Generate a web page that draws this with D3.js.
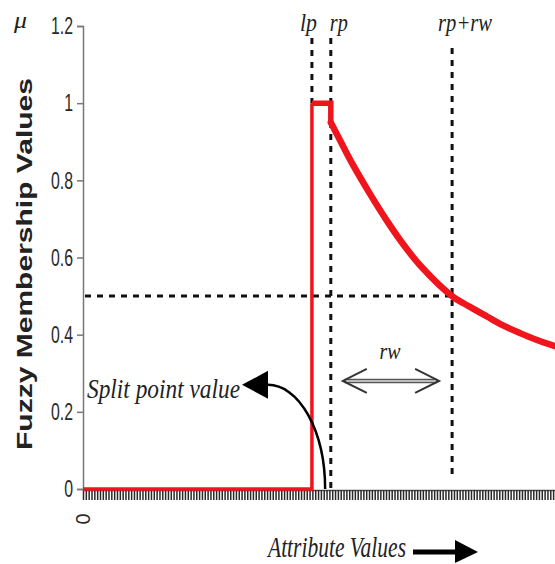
<!DOCTYPE html>
<html>
<head>
<meta charset="utf-8">
<script src="https://cdn.jsdelivr.net/npm/d3@7"></script>
<style>
  body { margin: 0; background: #fff; }
  svg { display: block; }
</style>
</head>
<body>
<svg id="chart" width="555" height="564"></svg>
<script>
// data (x in attribute units 0..100, y = membership)
const yTicks = [0, 0.2, 0.4, 0.6, 0.8, 1, 1.2]
const yTickLabels = ['0', '0.2', '0.4', '0.6', '0.8', '1', '1.2']
const xTickLabels = ['0']
const lp = 48.5
const rp = 52.5
const rw = 25.7
const stepX = [0, 48.5, 48.5]
const stepY = [0, 0, 1]
const topX = [48.5, 52.5, 52.5]
const topY = [1, 1, 0.95]
const curveX = [52.5, 54.4, 57.2, 60.8, 64.4, 67.8, 71.4, 78.2, 82, 85.6, 89, 92.6, 96.2, 100]
const curveY = [0.95, 0.905, 0.84, 0.765, 0.695, 0.635, 0.58, 0.5, 0.472, 0.447, 0.424, 0.404, 0.386, 0.37]
const splitPoint = 51.3
const splitLabelAt = [39.2, 0.27]
const rwArrowY = 0.28

let svg = d3.select('#chart')
let x = d3.scaleLinear([0, 100], [83, 555])
let y = d3.scaleLinear([0, 1.2], [489, 26])

function condense(sel, f) {
    sel.each(function () {
        let w = this.getComputedTextLength()
        d3.select(this).attr('textLength', w * f).attr('lengthAdjust', 'spacingAndGlyphs')
    })
}

// y axis
let yAxis = svg.append('g')
    .attr('transform', `translate(${x(0)},0)`)
    .call(d3.axisLeft(y).tickValues(yTicks).tickFormat((d, i) => yTickLabels[i]).tickSize(6).tickPadding(4))
yAxis.select('.domain').attr('stroke', '#777').attr('stroke-width', 1.5)
yAxis.selectAll('.tick line').attr('stroke', '#777').attr('stroke-width', 1.5)
yAxis.selectAll('.tick text')
    .attr('font-family', 'Liberation Sans, Arial, sans-serif')
    .attr('font-size', 24)
    .attr('fill', '#2a2a2a')
    .call(condense, 0.66)

// x axis: dense rug of ticks
let rug = d3.range(0, 100.01, 0.6)
let xRug = svg.append('g')
    .attr('transform', `translate(0,${y(0) + 1})`)
    .call(d3.axisBottom(x).tickValues(rug).tickFormat('').tickSize(10).tickSizeOuter(0))
xRug.select('.domain').attr('stroke', '#555').attr('stroke-width', 1.5)
xRug.selectAll('.tick line').attr('stroke', '#2a2a2a').attr('stroke-width', 1.5)

// rotated "0" label under the x axis
svg.selectAll('.xlab').data(xTickLabels).join('text')
    .attr('class', 'xlab')
    .attr('transform', (d) => `translate(${x(+d) + 7},${y(0) + 30}) rotate(-90)`)
    .attr('text-anchor', 'middle')
    .attr('font-family', 'Liberation Sans, Arial, sans-serif')
    .attr('font-size', 20)
    .attr('fill', '#2a2a2a')
    .text((d) => d)

// dashed guide lines
let dash = { stroke: '#111', width: 3, array: '6,6' }
function guide(x1, y1, x2, y2) {
    svg.append('line')
        .attr('x1', x1).attr('y1', y1).attr('x2', x2).attr('y2', y2)
        .attr('stroke', dash.stroke).attr('stroke-width', dash.width)
        .attr('stroke-dasharray', dash.array)
}
guide(x(lp), 38, x(lp), y(1))
guide(x(rp), 38, x(rp), y(0))
guide(x(rp + rw), 48, x(rp + rw), y(0) - 10)
guide(x(0) + 2, y(0.5), x(rp + rw), y(0.5))

// membership function
let red = '#f0141c'
let line = d3.line().x((d) => x(d[0])).y((d) => y(d[1]))
svg.append('path')
    .attr('d', line(stepX.map((d, i) => [d, stepY[i]])))
    .attr('fill', 'none').attr('stroke', red).attr('stroke-width', 3.5)
svg.append('path')
    .attr('d', line(topX.map((d, i) => [d, topY[i]])))
    .attr('fill', 'none').attr('stroke', red).attr('stroke-width', 5.5)
svg.append('path')
    .attr('d', line.curve(d3.curveCatmullRom.alpha(0.5))(curveX.map((d, i) => [d, curveY[i]])))
    .attr('fill', 'none').attr('stroke', red).attr('stroke-width', 6.5)
    .attr('stroke-linecap', 'round')

// split point arrow
let defs = svg.append('defs')
defs.append('marker')
    .attr('id', 'head')
    .attr('markerUnits', 'userSpaceOnUse')
    .attr('markerWidth', 30).attr('markerHeight', 32)
    .attr('viewBox', '0 -16 30 32')
    .attr('refX', 0).attr('refY', 0)
    .attr('orient', 'auto')
    .append('path').attr('d', 'M0,-14 L26,0 L0,14 Z').attr('fill', '#000')

let ax0 = x(splitPoint), ay0 = y(0)
let ax1 = x(splitLabelAt[0]), ay1 = y(splitLabelAt[1])
svg.append('path')
    .attr('d', `M${ax0},${ay0} A${ax0 - ax1},${ay0 - ay1} 0 0 0 ${ax1},${ay1}`)
    .attr('fill', 'none').attr('stroke', '#000').attr('stroke-width', 2.5)
    .attr('marker-end', 'url(#head)')

let serif = 'Liberation Serif, Times New Roman, serif'
function label(txt, tx, ty, size, len, anchor) {
    svg.append('text')
        .attr('x', tx).attr('y', ty)
        .attr('text-anchor', anchor || 'start')
        .attr('font-family', serif).attr('font-style', 'italic')
        .attr('font-size', size).attr('fill', '#222')
        .attr('textLength', len).attr('lengthAdjust', 'spacingAndGlyphs')
        .text(txt)
}
label('Split point value', 87, ay1 + 13, 27, 153)
label('lp', x(lp) - 12, 31, 26, 17)
label('rp', x(rp) - 1, 31, 26, 18)
label('rp+rw', x(rp + rw) - 14, 31, 26, 54)
label('rw', x(rp + rw / 2) - 12, y(rwArrowY) - 22, 24, 21)
label('Attribute Values', 268, 557, 30, 138)
label('\u03bc', 14, 28, 24, 13)

// rw double arrow
let rx0 = x(rp) + 12, rx1 = x(rp + rw) - 13, ry = y(rwArrowY)
svg.append('line').attr('x1', rx0 + 2).attr('x2', rx1 - 2).attr('y1', ry).attr('y2', ry)
    .attr('stroke', '#555').attr('stroke-width', 4.5)
svg.append('line').attr('x1', rx0 + 3).attr('x2', rx1 - 3).attr('y1', ry).attr('y2', ry)
    .attr('stroke', '#ddd').attr('stroke-width', 1.5)
svg.append('path')
    .attr('d', `M${rx0 + 24},${ry - 12} L${rx0},${ry} L${rx0 + 24},${ry + 12} M${rx1 - 24},${ry - 12} L${rx1},${ry} L${rx1 - 24},${ry + 12}`)
    .attr('fill', 'none').attr('stroke', '#333').attr('stroke-width', 2)

// arrow after x title
svg.append('line').attr('x1', 413).attr('x2', 458).attr('y1', 552).attr('y2', 552)
    .attr('stroke', '#000').attr('stroke-width', 5)
svg.append('path').attr('d', 'M455,540 L478,552 L455,563 Z').attr('fill', '#000')

// y title
svg.append('text')
    .attr('transform', `translate(32,264) rotate(-90)`)
    .attr('text-anchor', 'middle')
    .attr('font-family', 'Liberation Sans, Arial, sans-serif')
    .attr('font-weight', 'bold')
    .attr('font-size', 22)
    .attr('fill', '#222')
    .attr('textLength', 372).attr('lengthAdjust', 'spacingAndGlyphs')
    .text('Fuzzy Membership Values')
</script>
</body>
</html>
